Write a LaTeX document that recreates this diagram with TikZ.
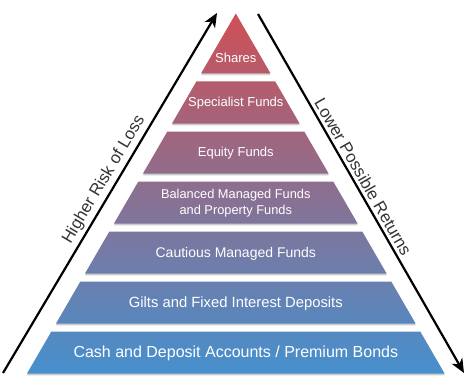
\documentclass[tikz,border=0pt]{standalone}
\usepackage{fontspec}
\setmainfont{Liberation Sans}
\usetikzlibrary{arrows.meta}
\definecolor{topred}{HTML}{CE5056}
\definecolor{midpurple}{HTML}{8A6A8C}
\definecolor{botblue}{HTML}{4690CE}
\definecolor{labelgray}{HTML}{333333}
\newcommand\cxx{235.8}
\newcommand\kk{0.58}
\newcommand\apy{13.5}
\newcommand\layerpath[2]{({\cxx-\kk*(#2-\apy)},#2) -- ({\cxx+\kk*(#2-\apy)},#2) -- ({\cxx+\kk*(#1-\apy)},#1) -- ({\cxx-\kk*(#1-\apy)},#1) -- cycle}
\begin{document}
\begin{tikzpicture}[x=1pt,y=-1pt,
  lbl/.style={text=white, align=center, inner sep=0pt},
  riskarrow/.style={line width=2.2pt, -{Stealth[length=14pt,width=12pt,inset=4pt]}},
  sidelbl/.style={text=labelgray, font=\fontsize{16.8}{19}\selectfont, sloped, above=2pt, inner sep=1pt}]
\useasboundingbox (0,0) rectangle (470,385);
% shadows
\foreach \t/\b in {13.5/73.5,81.5/123.5,131.5/173.5,181.5/223.5,231.5/273.5,281.5/323.5,331.5/373.5}{
  \fill[black, opacity=0.12] [yshift=-2pt] \layerpath{\t}{\b};
  \fill[black, opacity=0.12] [yshift=-1pt] \layerpath{\t}{\b};
}
% layers with continuous gradient
\begin{scope}
\clip \layerpath{13.5}{73.5} \layerpath{81.5}{123.5} \layerpath{131.5}{173.5}
      \layerpath{181.5}{223.5} \layerpath{231.5}{273.5} \layerpath{281.5}{323.5}
      \layerpath{331.5}{373.5};
\shade[top color=topred, middle color=midpurple, bottom color=botblue] (20,13.5) rectangle (452,373.5);
\end{scope}
% labels
\node[lbl, font=\fontsize{13}{15}\selectfont] (shares) at (\cxx,58) {Shares};
\node[lbl, font=\fontsize{13}{15}\selectfont] (specialist) at (\cxx,103.5) {Specialist Funds};
\node[lbl, font=\fontsize{13}{15}\selectfont] (equity) at (\cxx,153.5) {Equity Funds};
\node[lbl, font=\fontsize{12.8}{16}\selectfont] (balanced) at (\cxx,203.5) {Balanced Managed Funds\\and Property Funds};
\node[lbl, font=\fontsize{14}{16}\selectfont] (cautious) at (\cxx,253.5) {Cautious Managed Funds};
\node[lbl, font=\fontsize{14.8}{17}\selectfont] (gilts) at (\cxx,303.5) {Gilts and Fixed Interest Deposits};
\node[lbl, font=\fontsize{16}{18}\selectfont] (cash) at (\cxx,353.5) {Cash and Deposit Accounts / Premium Bonds};
% arrows
\coordinate (L0) at (3,373);
\coordinate (L1) at (217,13);
\coordinate (R0) at (258,14);
\coordinate (R1) at (464,373);
\draw[riskarrow] (L0) -- (L1) node[sidelbl, pos=0.52] (risk) {Higher Risk of Loss};
\draw[riskarrow] (R0) -- (R1) node[sidelbl, pos=0.468] (returns) {Lower Possible Returns};
\end{tikzpicture}
\end{document}
